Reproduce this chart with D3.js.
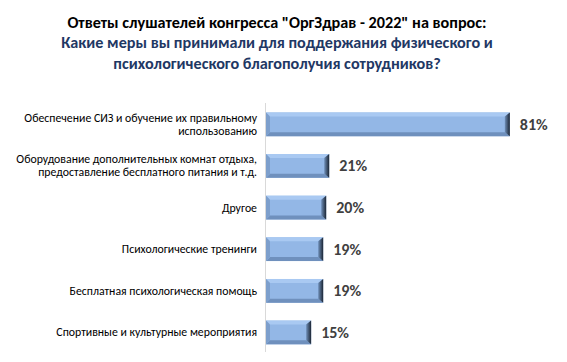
<!DOCTYPE html>
<html><head><meta charset="utf-8">
<script src="https://cdn.jsdelivr.net/npm/d3@7"></script>
<style>body{margin:0;background:#fff}svg{display:block}</style>
</head><body>
<script>
const categories = [
  ["Обеспечение СИЗ и обучение их правильному", "использованию"],
  ["Оборудование дополнительных комнат отдыха,", "предоставление бесплатного питания и т.д."],
  ["Другое"],
  ["Психологические тренинги"],
  ["Бесплатная психологическая помощь"],
  ["Спортивные и культурные мероприятия"]
];
const values = [81, 21, 20, 19, 19, 15];
const valueLabels = ["81%", "21%", "20%", "19%", "19%", "15%"];
const titleLines = ['Ответы слушателей конгресса "ОргЗдрав - 2022" на вопрос:',
  'Какие меры вы принимали для поддержания физического и',
  'психологического благополучия сотрудников?'];

const W = 567, H = 362;
const svg = d3.select("body").append("svg").attr("width", W).attr("height", H);
const font = "Carlito, Calibri, 'Open Sans', sans-serif";

const defs = svg.append("defs");
const rg = defs.append("linearGradient").attr("id", "rend").attr("x1", 0).attr("x2", 1).attr("y1", 0).attr("y2", 0);
rg.append("stop").attr("offset", "0%").attr("stop-color", "#6f8fb9");
rg.append("stop").attr("offset", "100%").attr("stop-color", "#1b2533");

// title
const tt = svg.append("text").attr("text-anchor", "middle").attr("font-family", font).attr("font-weight", "bold").attr("font-size", 16.2);
titleLines.forEach((t, i) => {
  tt.append("tspan").attr("x", 277).attr("y", 27.5 + i * 20.5).attr("fill", i === 0 ? "#000000" : "#1f3864").text(t);
});

const x0 = 266;
const x = d3.scaleLinear().domain([0, 100]).range([x0, x0 + 301]);
const y = d3.scaleBand().domain(d3.range(values.length)).range([103.3, 353.5]).paddingInner(0.43).paddingOuter(0.22);

// axis line
svg.append("line").attr("x1", x0 - 0.5).attr("x2", x0 - 0.5).attr("y1", 103).attr("y2", 352)
  .attr("stroke", "#d9d9d9").attr("stroke-width", 1);

const bw = 4, rb = 5;
const g = svg.selectAll("g.bar").data(values).join("g").attr("class", "bar");
g.each(function(v, i) {
  const s = d3.select(this);
  const X0 = x(0), X1 = x(v), Y0 = y(i), Y1 = y(i) + y.bandwidth();
  s.append("rect").attr("x", X0).attr("y", Y0).attr("width", X1 - X0).attr("height", Y1 - Y0).attr("fill", "#93b7e6");
  const poly = (pts, fill) => s.append("polygon").attr("points", pts.map(p => p.join(",")).join(" ")).attr("fill", fill);
  poly([[X0, Y0], [X1, Y0], [X1 - rb, Y0 + bw], [X0 + bw, Y0 + bw]], "#a9c9f2");
  poly([[X0, Y1], [X1, Y1], [X1 - rb, Y1 - bw], [X0 + bw, Y1 - bw]], "#6f90bd");
  poly([[X0, Y0], [X0 + bw, Y0 + bw], [X0 + bw, Y1 - bw], [X0, Y1]], "#7d9fcc");
  poly([[X1, Y0], [X1 - rb, Y0 + bw], [X1 - rb, Y1 - bw], [X1, Y1]], "url(#rend)");
});

// value labels
svg.selectAll("text.val").data(values).join("text").attr("class", "val")
  .attr("x", (d) => x(d) + 10).attr("y", (d, i) => y(i) + y.bandwidth() / 2 + 5.5)
  .attr("font-family", font).attr("font-weight", "bold").attr("font-size", 16).attr("fill", "#404040")
  .text((d, i) => valueLabels[i]);

// category labels
svg.selectAll("text.cat").data(categories).join("text").attr("class", "cat")
  .attr("text-anchor", "end").attr("font-family", font).attr("font-size", 11.8).attr("fill", "#000")
  .each(function(lines, i) {
    const c = y(i) + y.bandwidth() / 2;
    const n = lines.length;
    lines.forEach((l, k) => {
      d3.select(this).append("tspan").attr("x", 257).attr("y", c + 4 + (k - (n - 1) / 2) * 13).text(l);
    });
  });
</script>
</body></html>
